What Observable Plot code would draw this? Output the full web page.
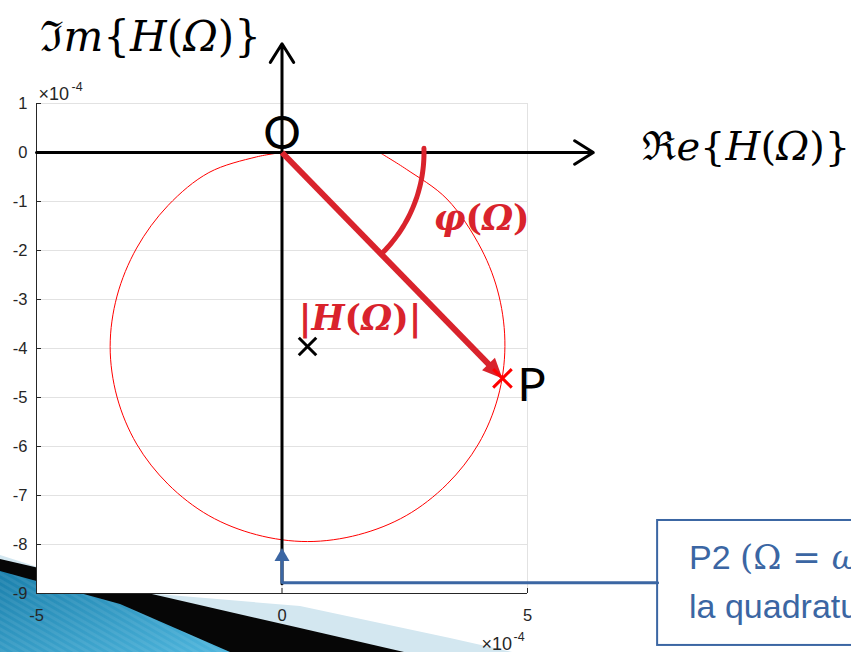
<!DOCTYPE html>
<html>
<head>
<meta charset="utf-8">
<script src="https://cdn.jsdelivr.net/npm/d3@7"></script>
<script src="https://cdn.jsdelivr.net/npm/@observablehq/plot@0.6"></script>
<style>
  html, body { margin: 0; padding: 0; background: #fff; }
  #stage { position: relative; width: 851px; height: 652px; overflow: hidden; }
  #stage > svg { position: absolute; left: 0; top: 0; }
</style>
</head>
<body>
<div id="stage"></div>
<script>
// Locus of H(Ω) in the complex plane, values in units of 1e-4
const locusRe = [0, -0.52, -1.49, -2.32, -2.96, -3.36, -3.50, -3.36, -2.96, -2.32, -1.49, -0.52, 0.52, 1.56, 2.53, 3.36, 4.00, 4.40, 4.54, 4.42, 4.06, 3.36, 2.53, 2.02];
const locusIm = [0, -0.09, -0.41, -1.08, -1.95, -2.93, -3.96, -4.99, -5.95, -6.77, -7.41, -7.80, -7.94, -7.80, -7.41, -6.77, -5.95, -4.99, -3.96, -2.93, -1.97, -0.95, -0.34, -0.02];

// Tick values
const xTicks = [-5, 0, 5];
const yTicks = [1, 0, -1, -2, -3, -4, -5, -6, -7, -8, -9];

// Marked points
const pointP = {re: 4.49, im: -4.61};      // H(Ω) at the chosen frequency
const centre = {re: 0.52, im: -3.96};      // centre of the locus
const pointP2 = {re: 0, im: -8.07};        // Ω = ω0, quadrature point (callout tip)

// ---- layout ----
const W = 851, H = 652;
const M = {top: 103, right: 324, bottom: 59, left: 36};
const xDomain = [-5, 5], yDomain = [-9, 1];
const plotW = W - M.left - M.right;
const plotH = H - M.top - M.bottom;
const pxX = plotW / (xDomain[1] - xDomain[0]);
const pxY = plotH / (yDomain[1] - yDomain[0]);
const toRe = px => px / pxX, toIm = px => px / pxY;

const RED = "#d9232c", BRIGHT = "#ff0000", BLUE = "#3b66a3", INK = "#262626";
const MATH = "'DejaVu Serif', serif";
const SANS = "'Liberation Sans', Arial, sans-serif";

// ---- slide decoration (bottom-left corner) ----
const deco = d3.create("svg").attr("width", W).attr("height", H);
const defs = deco.append("defs");
const g1 = defs.append("linearGradient").attr("id", "teal")
  .attr("x1", 0).attr("y1", 0).attr("x2", 1).attr("y2", 1);
g1.append("stop").attr("offset", 0).attr("stop-color", "#1a7fab");
g1.append("stop").attr("offset", 1).attr("stop-color", "#4fb6dd");
const pat = defs.append("pattern").attr("id", "stripes").attr("width", 6).attr("height", 6)
  .attr("patternUnits", "userSpaceOnUse").attr("patternTransform", "rotate(-60)");
pat.append("rect").attr("width", 3).attr("height", 6).attr("fill", "rgba(255,255,255,0.07)");
deco.append("polygon").attr("points", "0,555 110,590 300,606 450,638 512,652 0,652").attr("fill", "#d3e7f0");
deco.append("polygon").attr("points", "0,559 300,628 404,652 0,652").attr("fill", "#060606");
deco.append("polygon").attr("points", "0,571 120,604 230,652 0,652").attr("fill", "url(#teal)");
deco.append("polygon").attr("points", "0,571 120,604 230,652 0,652").attr("fill", "url(#stripes)");

// ---- derived annotation geometry ----
const locus = locusRe.map((re, i) => ({re, im: locusIm[i]}));
const theta = Math.atan2(-pointP.im * pxY, pointP.re * pxX); // screen angle of the vector
const headLen = 20, headHalf = 9;
const vecEnd = {
  re: pointP.re - toRe(headLen * 0.7 * Math.cos(theta)),
  im: pointP.im + toIm(headLen * 0.7 * Math.sin(theta))
};
const arcR = 142;
const arcFrom = -0.03;
const phiArc = d3.range(0, 41).map(i => {
  const a = arcFrom + (theta - arcFrom) * i / 40;
  return {re: toRe(arcR * Math.cos(a)), im: -toIm(arcR * Math.sin(a))};
});
const calloutY = -8.78, boxLeft = 7.65;
const calloutPath = [
  {re: boxLeft, im: calloutY},
  {re: 0, im: calloutY},
  {re: 0, im: pointP2.im - toIm(10)}
];

// filled arrowhead with its tip at the origin, pointing up
function arrowHead(len, half) {
  return {draw(ctx) { ctx.moveTo(0, 0); ctx.lineTo(half, len); ctx.lineTo(-half, len); ctx.closePath(); }};
}

const chart = Plot.plot({
  width: W, height: H,
  marginTop: M.top, marginRight: M.right, marginBottom: M.bottom, marginLeft: M.left,
  x: {domain: xDomain},
  y: {domain: yDomain},
  style: {background: "none", overflow: "hidden", fontFamily: SANS, fontSize: "16.5px", color: INK},
  marks: [
    Plot.frame({fill: "white", stroke: "none"}),
    Plot.gridY(yTicks, {stroke: "#e2e2e2", strokeOpacity: 1}),
    Plot.gridX(xTicks, {stroke: "#e2e2e2", strokeOpacity: 1}),
    // locus
    Plot.line(locus, {x: "re", y: "im", stroke: BRIGHT, strokeWidth: 1, curve: "catmull-rom"}),
    // axes box (left and bottom) with inward ticks
    Plot.ruleX([xDomain[0]], {stroke: INK, strokeWidth: 1}),
    Plot.ruleY([yDomain[0]], {stroke: INK, strokeWidth: 1}),
    Plot.tickY(yTicks, {y: d => d, insetRight: plotW - 5, stroke: INK}),
    Plot.tickX(xTicks, {x: d => d, insetTop: plotH - 5, stroke: INK}),
    Plot.axisY(yTicks, {tickSize: 0, tickPadding: 9, tickFormat: d => String(d), label: null, fontSize: 16.5, fill: INK}),
    Plot.axisX(xTicks, {tickSize: 0, tickPadding: 16, tickFormat: d => String(d), label: null, fontSize: 16.5, fill: INK}),
    // ×10^-4 exponents
    Plot.text(["×10"], {frameAnchor: "top-left", dx: 2, dy: -4, textAnchor: "start", lineAnchor: "bottom", fontSize: 18, fill: INK}),
    Plot.text(["-4"], {frameAnchor: "top-left", dx: 35, dy: -13, textAnchor: "start", lineAnchor: "bottom", fontSize: 12.5, fill: INK}),
    Plot.text(["×10"], {frameAnchor: "bottom-right", dx: -46, dy: 56, textAnchor: "start", lineAnchor: "bottom", fontSize: 18, fill: INK}),
    Plot.text(["-4"], {frameAnchor: "bottom-right", dx: -14, dy: 47, textAnchor: "start", lineAnchor: "bottom", fontSize: 12.5, fill: INK}),
    // real and imaginary axes drawn through the origin
    Plot.arrow([0], {x1: xDomain[0], y1: 0, x2: 6.34, y2: 0, stroke: "black", strokeWidth: 3, headLength: 11, headAngle: 64}),
    Plot.arrow([0], {x1: 0, y1: -8.8, x2: 0, y2: 2.22, stroke: "black", strokeWidth: 3, headLength: 11, headAngle: 64}),
    // phase arc and magnitude vector O→P
    Plot.line(phiArc, {x: "re", y: "im", stroke: RED, strokeWidth: 5}),
    Plot.link([0], {x1: 0, y1: 0, x2: vecEnd.re, y2: vecEnd.im, stroke: RED, strokeWidth: 6}),
    Plot.dot([pointP], {x: "re", y: "im", r: 5, symbol: arrowHead(headLen, headHalf), fill: RED, stroke: "none", rotate: 90 + theta * 180 / Math.PI}),
    // markers
    Plot.dot([centre], {x: "re", y: "im", r: 8, symbol: "times", stroke: "black", strokeWidth: 3}),
    Plot.dot([pointP], {x: "re", y: "im", r: 8.5, symbol: "times", stroke: BRIGHT, strokeWidth: 3}),
    // point labels
    Plot.text(["O"], {x: 0, y: 0, dy: -4, textAnchor: "middle", lineAnchor: "bottom", fontSize: 47, fontFamily: "Lato, 'Open Sans', sans-serif", fill: "black"}),
    Plot.text(["P"], {x: pointP.re, y: pointP.im, dx: 15, dy: 23, textAnchor: "start", lineAnchor: "bottom", fontSize: 47, fontFamily: "Lato, 'Open Sans', sans-serif", fill: "black"}),
    Plot.text(["φ(Ω)"], {x: 3.09, y: -1.59, textAnchor: "start", lineAnchor: "bottom", fontSize: 35, fontWeight: "bold", fontFamily: MATH, fill: RED}),
    Plot.text(["|H(Ω)|"], {x: 0.34, y: -3.63, textAnchor: "start", lineAnchor: "bottom", fontSize: 35, fontWeight: "bold", fontFamily: MATH, fill: RED}),
    // axis titles
    Plot.text(["ℑm{H(Ω)}"], {x: -4.92, y: 2.08, textAnchor: "start", lineAnchor: "bottom", fontSize: 42, fontFamily: MATH, fill: "black"}),
    Plot.text(["ℜe{H(Ω)}"], {x: 7.34, y: -0.16, textAnchor: "start", lineAnchor: "bottom", fontSize: 40, fontFamily: MATH, fill: "black"}),
    // callout for P2
    Plot.rect([0], {x1: boxLeft, x2: 12.5, y1: -7.51, y2: -10.06, fill: "white", stroke: BLUE, strokeWidth: 2}),
    Plot.line(calloutPath, {x: "re", y: "im", stroke: BLUE, strokeWidth: 3, strokeLinejoin: "miter"}),
    Plot.dot([pointP2], {x: "re", y: "im", r: 4, symbol: arrowHead(13, 7.5), fill: BLUE, stroke: "none"}),
    Plot.text(["P2 (Ω = ω₀): H(Ω) è in"], {x: 8.29, y: -8.49, textAnchor: "start", lineAnchor: "bottom", fontSize: 34, fill: BLUE}),
    Plot.text(["la quadratura"], {x: 8.29, y: -9.49, textAnchor: "start", lineAnchor: "bottom", fontSize: 34, fill: BLUE})
  ]
});

// Typeset the formula labels: italic variables, upright delimiters
const I = 1;
const mathLabels = {
  "ℑm{H(Ω)}": [["ℑ"], ["m", I], ["{"], ["H", I], ["("], ["Ω", I], [")"], ["}"]],
  "ℜe{H(Ω)}": [["ℜ"], ["e", I], ["{"], ["H", I], ["("], ["Ω", I], [")"], ["}"]],
  "φ(Ω)": [["φ", I], ["("], ["Ω", I], [")"]],
  "|H(Ω)|": [["|"], ["H", I], ["("], ["Ω", I], [")"], ["|"]],
  "P2 (Ω = ω₀): H(Ω) è in": [["P2 ", 0, SANS], ["(Ω = ", 0, MATH], ["ω", I, MATH], ["₀)", 0, MATH], [": H(Ω) è in", 0, SANS]]
};
d3.select(chart).selectAll("text").each(function () {
  const parts = mathLabels[this.textContent];
  if (!parts) return;
  const el = d3.select(this);
  el.text(null);
  for (const [t, it, fam] of parts) {
    const ts = el.append("tspan").attr("font-style", it ? "italic" : "normal").text(t);
    if (fam) ts.attr("font-family", fam);
  }
});

const stage = document.getElementById("stage");
stage.append(deco.node());
stage.append(chart);
</script>
</body>
</html>
